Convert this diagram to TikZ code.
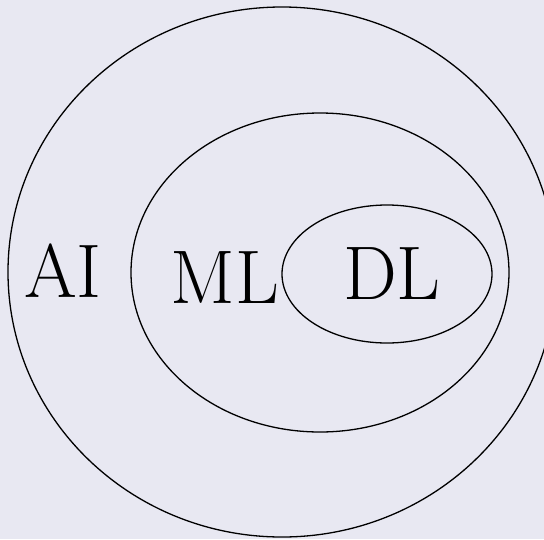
\documentclass[tikz,border=0pt]{standalone}
\usepackage{tikz}
\definecolor{bgc}{RGB}{232,232,242}
\begin{document}
\begin{tikzpicture}[x=1pt,y=-1pt,
  ring/.style={draw=black,line width=1.3pt},
  lbl/.style={font=\fontsize{76}{80}\selectfont,inner sep=0pt,anchor=base}]
\fill[bgc] (0,0) rectangle (544,539);
\useasboundingbox (0,0) rectangle (544,539);
\begin{scope}
\clip (0,0) rectangle (544,539);
\draw[ring] (282,272) ellipse [x radius=274,y radius=265];
\end{scope}
\draw[ring] (320,272.5) ellipse [x radius=189,y radius=159.5];
\draw[ring] (387,274) ellipse [x radius=105,y radius=69];
\node[lbl] (ai) at (63,297) {AI};
\node[lbl] (ml) at (225,303) {ML};
\node[lbl] (dl) at (392,299) {DL};
\end{tikzpicture}
\end{document}
